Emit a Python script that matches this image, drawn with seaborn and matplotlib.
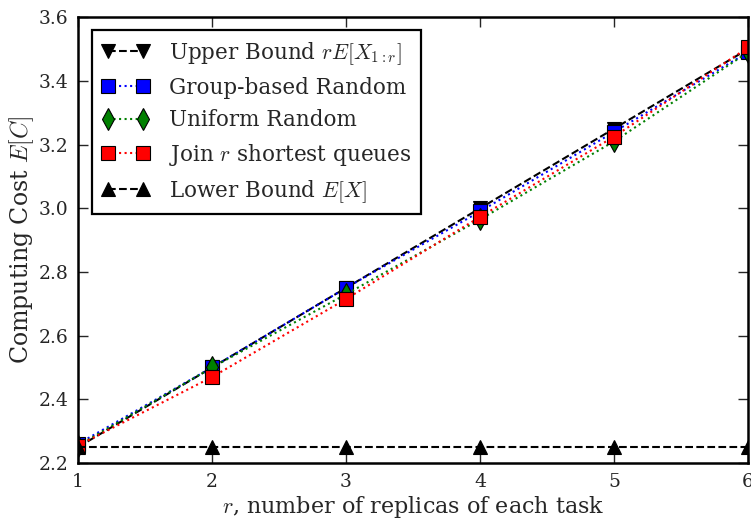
import matplotlib
matplotlib.use("Agg")
import matplotlib.pyplot as plt
import seaborn as sns
import pandas as pd

r_values = [1, 2, 3, 4, 5, 6]
upper_bound = [2.25, 2.50, 2.75, 3.00, 3.25, 3.50]
group_random = [2.26, 2.50, 2.75, 2.99, 3.24, 3.49]
uniform_random = [2.255, 2.50, 2.73, 2.965, 3.21, 3.49]
join_shortest = [2.255, 2.47, 2.715, 2.973, 3.225, 3.505]
lower_bound = [2.25, 2.25, 2.25, 2.25, 2.25, 2.25]

labels = [r"Upper Bound $rE[X_{1:r}]$", "Group-based Random", "Uniform Random",
          r"Join $r$ shortest queues", r"Lower Bound $E[X]$"]
series = [upper_bound, group_random, uniform_random, join_shortest, lower_bound]
colors = ["black", "blue", "green", "red", "black"]
markers = ["v", "s", "d", "s", "^"]
styles = ["--", ":", ":", ":", "--"]

sns.set_style("ticks")
plt.rcParams["font.family"] = ["DejaVu Serif"]
plt.rcParams["mathtext.fontset"] = "cm"

fig = plt.figure(figsize=(7.51, 5.22), dpi=100)
ax = fig.add_axes([0.104, 0.113, 0.892, 0.854])

for lab, vals, c, m, ls in zip(labels, series, colors, markers, styles):
    df = pd.DataFrame({"r": r_values, "v": vals})
    sns.lineplot(data=df, x="r", y="v", ax=ax, color=c, marker=m, linestyle=ls,
                 markersize=10 if m != "d" else 11, markeredgecolor="black",
                 markeredgewidth=0.8, linewidth=1.5, label=lab)

ax.set_xlim(1, 6)
ax.set_ylim(2.2, 3.6)
ax.set_xticks([1, 2, 3, 4, 5, 6])
ax.set_yticks([2.2, 2.4, 2.6, 2.8, 3.0, 3.2, 3.4, 3.6])
ax.set_yticklabels(["2.2", "2.4", "2.6", "2.8", "3.0", "3.2", "3.4", "3.6"])
ax.tick_params(direction="in", top=True, right=True, length=7, width=1,
               labelsize=13.5, pad=7)
for s in ax.spines.values():
    s.set_linewidth(1.8)
    s.set_color("black")
ax.set_xlabel(r"$r$, number of replicas of each task", fontsize=16, labelpad=2)
ax.set_ylabel(r"Computing Cost $E[C]$", fontsize=17, labelpad=2)

leg = ax.legend(loc="upper left", fontsize=15.5, numpoints=2, handlelength=2.2,
                handletextpad=0.9, fancybox=False, frameon=True, borderpad=0.45,
                labelspacing=0.48, bbox_to_anchor=(0.005, 0.995))
leg.get_frame().set_edgecolor("black")
leg.get_frame().set_linewidth(1.6)
leg.get_frame().set_alpha(1)

fig.savefig("out.png", dpi=100)
